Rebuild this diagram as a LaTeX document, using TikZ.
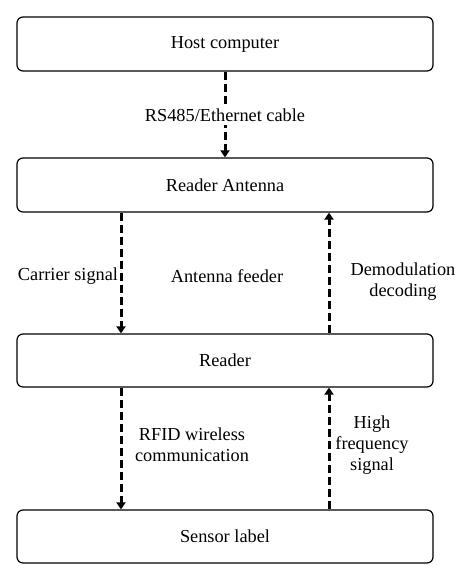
\documentclass[tikz,border=0pt]{standalone}
\usepackage{fontspec}
\setmainfont{Liberation Serif}
\usetikzlibrary{arrows.meta}
\begin{document}
\begin{tikzpicture}[x=1pt,y=-1pt,
  box/.style={draw,line width=1.2pt,rounded corners=6pt,minimum width=416pt,inner sep=0pt,font=\fontsize{18.3}{21}\selectfont},
  arr/.style={line width=3pt,dash pattern=on 8pt off 4pt,-{Triangle[width=9pt,length=7pt]}},
  lbl/.style={font=\fontsize{18.3}{21}\selectfont,align=center,inner sep=1pt}]
\useasboundingbox (0,0) rectangle (474,581);
\coordinate (xl) at (121,0);
\coordinate (xr) at (329,0);
\node[box,minimum height=54pt] (host) at (225,44) {Host computer};
\node[box,minimum height=54pt] (ant) at (225,185) {Reader Antenna};
\node[box,minimum height=53pt] (rd) at (225,360.5) {Reader};
\node[box,minimum height=53pt] (sen) at (225,536.5) {Sensor label};
\draw[arr] (host.south) -- (ant.north);
\node[lbl,fill=white,inner ysep=4pt] (l1) at (225,115) {RS485/Ethernet cable};
\draw[arr] (ant.south -| xl) -- (rd.north -| xl);
\draw[arr] (rd.north -| xr) -- (ant.south -| xr);
\draw[arr] (rd.south -| xl) -- (sen.north -| xl);
\draw[arr] (sen.north -| xr) -- (rd.south -| xr);
\node[lbl] (l2) at (68,276) {Carrier signal};
\node[lbl] (l3) at (227,276) {Antenna feeder};
\node[lbl] (l4) at (403,282) {Demodulation\\decoding};
\node[lbl] (l5) at (192,445) {RFID wireless\\communication};
\node[lbl] (l6) at (372,445) {High\\frequency\\signal};
\end{tikzpicture}
\end{document}
